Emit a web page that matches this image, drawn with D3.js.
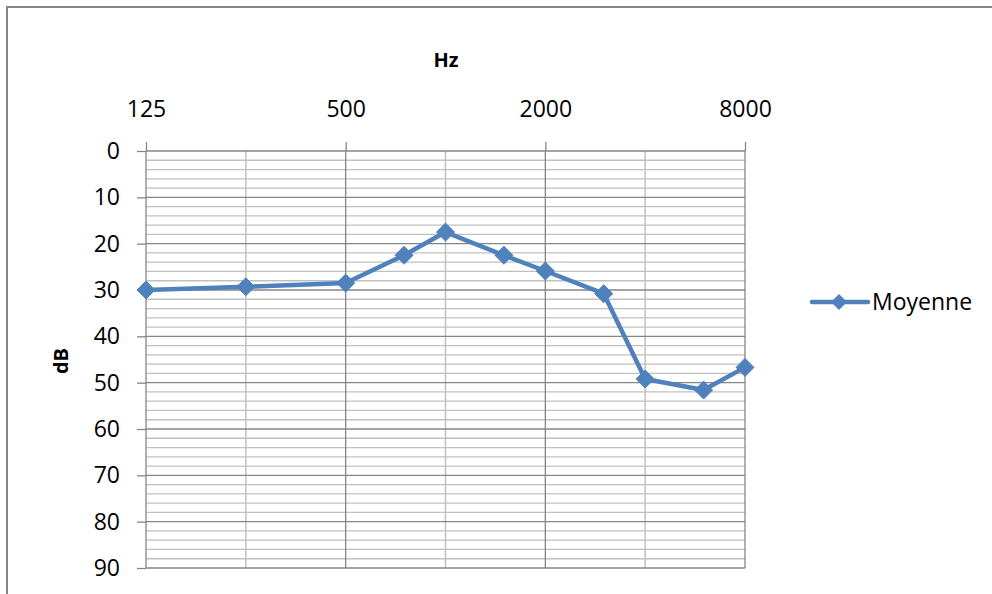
<!DOCTYPE html>
<html>
<head>
<meta charset="utf-8">
<script src="https://cdn.jsdelivr.net/npm/d3@7"></script>
<style>
  html, body { margin: 0; padding: 0; background: #fff; }
  svg { display: block; }
  text { font-family: "Open Sans", "Noto Sans", sans-serif; fill: #000; }
</style>
</head>
<body>
<svg id="chart" width="992" height="594"></svg>
<script>
// ---- Data ----
const frequencies = [125, 250, 500, 750, 1000, 1500, 2000, 3000, 4000, 6000, 8000];
const moyenne = [30.0, 29.3, 28.5, 22.5, 17.5, 22.5, 25.9, 30.8, 49.2, 51.6, 46.7];
const seriesName = "Moyenne";
const xMajorTicks = [125, 500, 2000, 8000];
const xMinorTicks = [250, 1000, 4000];
const yMajorTicks = [0, 10, 20, 30, 40, 50, 60, 70, 80, 90];
const yMinorTicks = d3.range(0, 91, 2);
const xTitle = "Hz";
const yTitle = "dB";

// ---- Layout ----
const svg = d3.select("#chart");
const plot = { left: 146, right: 745, top: 151, bottom: 568 };
const blue = "#4F81BD";
const majorGrid = "#868686";
const minorGrid = "#c0c0c0";

const x = d3.scaleLog().base(2).domain([125, 8000]).range([plot.left, plot.right]);
const y = d3.scaleLinear().domain([0, 90]).range([plot.top, plot.bottom]);

// chart border (top and left edges visible)
svg.append("path")
  .attr("d", `M7,594 L7,7 L992,7`)
  .attr("fill", "none")
  .attr("stroke", "#868686")
  .attr("stroke-width", 2);

// minor horizontal gridlines
svg.append("g").selectAll("line")
  .data(yMinorTicks.filter(v => v % 10 !== 0))
  .join("line")
  .attr("x1", plot.left).attr("x2", plot.right)
  .attr("y1", d => y(d)).attr("y2", d => y(d))
  .attr("stroke", minorGrid).attr("stroke-width", 1.3);

// minor vertical gridlines
svg.append("g").selectAll("line")
  .data(xMinorTicks)
  .join("line")
  .attr("x1", d => x(d)).attr("x2", d => x(d))
  .attr("y1", plot.top).attr("y2", plot.bottom)
  .attr("stroke", minorGrid).attr("stroke-width", 1.5);

// major horizontal gridlines
svg.append("g").selectAll("line")
  .data(yMajorTicks)
  .join("line")
  .attr("x1", plot.left).attr("x2", plot.right)
  .attr("y1", d => y(d)).attr("y2", d => y(d))
  .attr("stroke", majorGrid).attr("stroke-width", 1.3);

// major vertical gridlines
svg.append("g").selectAll("line")
  .data(xMajorTicks)
  .join("line")
  .attr("x1", d => x(d)).attr("x2", d => x(d))
  .attr("y1", plot.top).attr("y2", plot.bottom)
  .attr("stroke", majorGrid).attr("stroke-width", 1.3);

// x axis (top)
const xAxis = d3.axisTop(x)
  .tickValues(xMajorTicks)
  .tickSize(9)
  .tickPadding(25)
  .tickFormat(d3.format("d"));
const gx = svg.append("g").attr("transform", `translate(0,${plot.top})`).call(xAxis);
gx.select(".domain").remove();
gx.selectAll(".tick line").attr("stroke", majorGrid).attr("stroke-width", 1.3);
gx.selectAll(".tick text").attr("font-size", 23).attr("font-family", "Open Sans").attr("fill", "#000");

// y axis (left)
const yAxis = d3.axisLeft(y)
  .tickValues(yMajorTicks)
  .tickSize(9)
  .tickPadding(17)
  .tickFormat(d3.format("d"));
const gy = svg.append("g").attr("transform", `translate(${plot.left},0)`).call(yAxis);
gy.select(".domain").remove();
gy.selectAll(".tick line").attr("stroke", majorGrid).attr("stroke-width", 1.3);
gy.selectAll(".tick text").attr("font-size", 23).attr("font-family", "Open Sans").attr("fill", "#000");

// axis titles
svg.append("text")
  .attr("x", 446).attr("y", 67)
  .attr("text-anchor", "middle")
  .attr("font-size", 20).attr("font-weight", "bold")
  .text(xTitle);
svg.append("text")
  .attr("transform", `translate(68,361) rotate(-90)`)
  .attr("text-anchor", "middle")
  .attr("font-size", 20).attr("font-weight", "bold")
  .text(yTitle);

// series
const points = frequencies.map((f, i) => [f, moyenne[i]]);
const line = d3.line().x(d => x(d[0])).y(d => y(d[1]));
svg.append("path")
  .datum(points)
  .attr("d", line)
  .attr("fill", "none")
  .attr("stroke", blue)
  .attr("stroke-width", 4.5)
  .attr("stroke-linejoin", "round")
  .attr("stroke-linecap", "round");

const diamond = r => `M0,${-r} L${r},0 L0,${r} L${-r},0 Z`;
svg.append("g").selectAll("path")
  .data(points)
  .join("path")
  .attr("transform", d => `translate(${x(d[0])},${y(d[1])})`)
  .attr("d", diamond(9))
  .attr("fill", blue)
  .attr("stroke", blue)
  .attr("stroke-width", 1);

// legend
const lg = svg.append("g").attr("transform", "translate(0,302)");
lg.append("line")
  .attr("x1", 812).attr("x2", 868).attr("y1", 0).attr("y2", 0)
  .attr("stroke", blue).attr("stroke-width", 4.5).attr("stroke-linecap", "round");
lg.append("path")
  .attr("transform", "translate(839,0)")
  .attr("d", diamond(8))
  .attr("fill", blue);
lg.append("text")
  .attr("x", 872).attr("y", 8)
  .attr("font-size", 23)
  .text(seriesName);
</script>
</body>
</html>
